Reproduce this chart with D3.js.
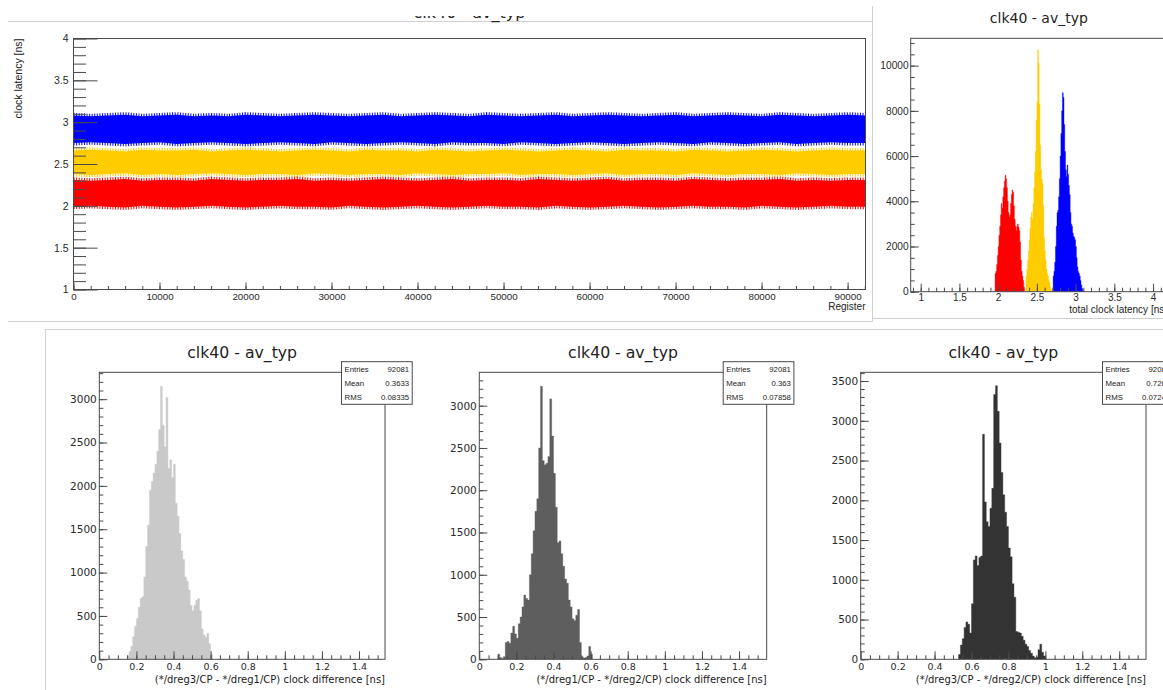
<!DOCTYPE html>
<html><head><meta charset="utf-8">
<script src="https://cdn.jsdelivr.net/npm/d3@7"></script>
<style>body{margin:0;background:#fff;}svg{display:block;}</style>
</head><body>
<svg id="c" width="1163" height="690"></svg>
<script>
// ================= DATA =================
const panelTitle = "clk40 - av_typ";
const registerCount = 92081;
const registerTicks = [0,10000,20000,30000,40000,50000,60000,70000,80000,90000];
const latencyTicks = [1,1.5,2,2.5,3,3.5,4];
const scatterYTitle = "clock latency [ns]";
const scatterXTitle = "Register";

// envelope of the per-register latency bands (evenly spaced over all registers)
const blueUpper = [3.08,3.07,3.08,3.09,3.07,3.08,3.09,3.07,3.08,3.07,3.09,3.08,3.07,3.08,3.09,3.08,3.07,3.08,3.09,3.07,3.08,3.09,3.08,3.07,3.09,3.08,3.07,3.08,3.09,3.07,3.08,3.09,3.08,3.07,3.08,3.09,3.07,3.08,3.09,3.08,3.07,3.09,3.08,3.07,3.08,3.09,3.08];
const blueLower = [2.75,2.76,2.75,2.74,2.75,2.76,2.74,2.75,2.76,2.75,2.74,2.75,2.76,2.75,2.74,2.76,2.75,2.74,2.75,2.76,2.75,2.74,2.76,2.75,2.75,2.74,2.76,2.75,2.74,2.75,2.76,2.75,2.74,2.75,2.76,2.75,2.74,2.76,2.75,2.74,2.75,2.76,2.74,2.75,2.76,2.75,2.75];
const yellowUpper = [2.66,2.67,2.66,2.65,2.67,2.66,2.66,2.67,2.65,2.66,2.67,2.66,2.65,2.66,2.67,2.66,2.65,2.67,2.66,2.66,2.65,2.67,2.66,2.65,2.66,2.67,2.66,2.65,2.66,2.67,2.66,2.65,2.67,2.66,2.66,2.65,2.67,2.66,2.65,2.66,2.67,2.66,2.65,2.66,2.67,2.66,2.66];
const yellowLower = [2.38,2.37,2.38,2.39,2.37,2.38,2.37,2.38,2.39,2.38,2.37,2.38,2.38,2.37,2.39,2.38,2.37,2.38,2.38,2.37,2.39,2.38,2.37,2.38,2.38,2.39,2.37,2.38,2.38,2.37,2.38,2.39,2.37,2.38,2.38,2.37,2.39,2.38,2.37,2.38,2.38,2.37,2.39,2.38,2.37,2.38,2.38];
const redUpper = [2.31,2.30,2.31,2.32,2.30,2.31,2.31,2.30,2.32,2.31,2.30,2.31,2.31,2.32,2.30,2.31,2.30,2.31,2.32,2.31,2.30,2.31,2.32,2.30,2.31,2.31,2.30,2.32,2.31,2.30,2.31,2.32,2.30,2.31,2.31,2.30,2.32,2.31,2.30,2.31,2.31,2.32,2.30,2.31,2.30,2.31,2.31];
const redLower = [1.99,2.00,1.99,1.98,2.00,1.99,1.98,1.99,2.00,1.99,1.98,1.99,2.00,1.99,1.99,1.98,2.00,1.99,1.98,1.99,2.00,1.99,1.98,1.99,2.00,1.99,1.99,1.98,2.00,1.99,1.98,1.99,2.00,1.99,1.98,1.99,2.00,1.99,1.99,1.98,2.00,1.99,1.98,1.99,2.00,1.99,1.99];

// total clock latency histograms (bin width 0.01 ns)
const latBinWidth = 0.01;
const latRedStart = 1.96;
const latRedCounts = [800,900,1200,1600,2000,2500,2900,3400,3900,3700,4200,4600,4900,5150,5000,4600,4000,3500,3300,3400,3900,4300,4500,4400,3800,3200,2900,2700,2900,3000,2850,2700,2200,1400,900,700,500,200];
const latYellowStart = 2.36;
const latYellowCounts = [700,1000,1400,1800,2300,2800,3300,3500,3200,3900,4600,5300,6200,7600,8400,10700,10100,8300,6500,5400,5000,4800,3800,2400,1800,1400,1000,800,700,500,400,200,100];
const latBlueStart = 2.71;
const latBlueCounts = [700,900,1300,2000,2900,3500,3600,4200,5000,6000,7000,8000,8800,8600,7400,6200,5400,5100,5600,5200,4700,4300,3500,3000,2900,2600,2450,2400,2300,2000,1500,1100,900,800,700,500,300,150,60];
const latCountTicks = [0,2000,4000,6000,8000,10000];
const latTitle = "total clock latency [ns]";

// clock-difference histograms (bin width 0.01 ns)
const diffBinWidth = 0.01;
const diffTicks = [0,0.2,0.4,0.6,0.8,1,1.2,1.4];
const diff31Start = 0.15;
const diff31Counts = [40,90,150,260,380,470,600,700,720,950,1300,1550,1950,2050,2150,2250,2400,2650,3150,2700,2450,3020,2200,2300,2100,2250,1800,1650,1450,1250,1150,950,900,800,620,560,620,680,700,560,350,280,250,300,180,60];
const diff12Start = 0.10;
const diff12Counts = [60,20,10,30,200,210,190,310,390,300,250,420,500,620,760,720,700,1000,1250,1520,1750,1900,2500,3230,2350,2300,2320,2400,3080,2640,2200,1800,1380,1400,1250,1100,950,900,700,620,480,460,520,590,200,30,15,20,40,150,60];
const diff32Start = 0.53;
const diff32Counts = [60,180,260,400,470,440,330,700,1250,1300,1180,1280,1300,2830,1980,1730,1670,1900,2150,3330,3440,3120,2720,2350,2070,1850,1670,1400,1290,950,780,350,340,330,290,240,190,160,110,75,40,20,30,120,190,90,40];
const diffTitles = ["(*/dreg3/CP - */dreg1/CP) clock difference [ns]","(*/dreg1/CP - */dreg2/CP) clock difference [ns]","(*/dreg3/CP - */dreg2/CP) clock difference [ns]"];
const statNames = ["Entries","Mean","RMS"];
const stats31 = ["92081","0.3633","0.08335"];
const stats12 = ["92081","0.363","0.07858"];
const stats32 = ["92081","0.7263","0.07245"];
const diffCountTicks31 = [0,500,1000,1500,2000,2500,3000];
const diffCountTicks12 = [0,500,1000,1500,2000,2500,3000];
const diffCountTicks32 = [0,500,1000,1500,2000,2500,3000,3500];

// ================= DRAWING =================
const svg = d3.select('#c');
const FL = "'Liberation Sans', Arial, Helvetica, sans-serif";
const FD = "'DejaVu Sans', sans-serif";
const AX = '#4a4a4a';
const SEP = '#d0d0d0';

function sepLine(x1,y1,x2,y2){
  svg.append('line').attr('x1',x1).attr('y1',y1).attr('x2',x2).attr('y2',y2)
    .attr('stroke',SEP).attr('stroke-width',1);
}
function styleAxis(g, font, size){
  g.select('.domain').remove();
  g.attr('font-family',font).attr('font-size',size).attr('color','#2a2a2a');
  g.selectAll('.tick line').attr('stroke',AX);
}
function frame(x0,y0,x1,y1){
  svg.append('rect').attr('x',x0).attr('y',y0).attr('width',x1-x0).attr('height',y1-y0)
    .attr('fill','none').attr('stroke',AX).attr('stroke-width',1);
}
function histPath(x, y, start, width, counts){
  const p = d3.path();
  p.moveTo(x(start), y(0));
  counts.forEach((c,i)=>{
    p.lineTo(x(start+i*width), y(c));
    p.lineTo(x(start+(i+1)*width), y(c));
  });
  p.lineTo(x(start+counts.length*width), y(0));
  p.closePath();
  return p.toString();
}
let clipId = 0;
function clipRect(x0,y0,x1,y1){
  const id = 'cl'+(clipId++);
  svg.append('clipPath').attr('id',id).append('rect')
    .attr('x',x0).attr('y',y0).attr('width',x1-x0).attr('height',y1-y0);
  return 'url(#'+id+')';
}

// ---- separators between the pasted panels ----
sepLine(8,21.5,872.5,21.5);
sepLine(872.5,6,872.5,321.5);
sepLine(8,321.5,872.5,321.5);
sepLine(873,318.5,1163,318.5);
sepLine(45,329.5,1163,329.5);
sepLine(45.5,329.5,45.5,690);

// ---- top-left: latency vs register ----
{
  const L = {x0:73.5, x1:865.5, y0:38.5, y1:289.5};
  // cropped title (only its lower part is visible)
  svg.append('text').attr('x',(L.x0+L.x1)/2).attr('y',18)
    .attr('text-anchor','middle').attr('font-family',FD).attr('font-size',16)
    .attr('fill','#222').attr('clip-path',clipRect(0,16,872,25)).text(panelTitle);

  const x = d3.scaleLinear().domain([0,registerCount]).range([L.x0,L.x1]);
  const y = d3.scaleLinear().domain([1,4]).range([L.y1,L.y0]);
  const cp = clipRect(L.x0,L.y0,L.x1,L.y1);
  const bands = [
    {up:blueUpper, lo:blueLower, color:'#0000ff'},
    {up:yellowUpper, lo:yellowLower, color:'#ffcc00'},
    {up:redUpper, lo:redLower, color:'#ff0000'}
  ];
  const gB = svg.append('g').attr('clip-path',cp);
  bands.forEach(b=>{
    const n = b.up.length;
    const reg = i => i*registerCount/(n-1);
    const area = d3.area().x((d,i)=>x(reg(i))).y0((d,i)=>y(b.lo[i])).y1((d,i)=>y(b.up[i]));
    gB.append('path').attr('d',area(b.up)).attr('fill',b.color);
    const lineU = d3.line().x((d,i)=>x(reg(i))).y(d=>y(d));
    [b.up,b.lo].forEach(edge=>{
      gB.append('path').attr('d',lineU(edge)).attr('fill','none')
        .attr('stroke',b.color).attr('stroke-width',5).attr('stroke-dasharray','1 1.6');
    });
  });
  frame(L.x0,L.y0,L.x1,L.y1);
  const minorY = d3.range(10,41).map(v=>v/10);
  svg.append('g').attr('transform',`translate(${L.x0},0)`)
    .call(d3.axisLeft(y).tickValues(minorY).tickSize(-12.5).tickFormat(''))
    .call(g=>styleAxis(g,FL,10));
  svg.append('g').attr('transform',`translate(${L.x0},0)`)
    .call(d3.axisLeft(y).tickValues(latencyTicks).tickSize(-24).tickPadding(5).tickFormat(d3.format('~g')))
    .call(g=>styleAxis(g,FL,10.5));
  const minorX = d3.range(0,registerCount,2000);
  svg.append('g').attr('transform',`translate(0,${L.y1})`)
    .call(d3.axisBottom(x).tickValues(minorX).tickSize(-3.5).tickFormat(''))
    .call(g=>styleAxis(g,FL,10));
  svg.append('g').attr('transform',`translate(0,${L.y1})`)
    .call(d3.axisBottom(x).tickValues(registerTicks).tickSize(-7).tickPadding(4).tickFormat(d3.format('d')))
    .call(g=>styleAxis(g,FL,9.8));
  svg.append('text').attr('x',L.x1).attr('y',309.5).attr('text-anchor','end')
    .attr('font-family',FL).attr('font-size',10).attr('fill','#222').text(scatterXTitle);
  svg.append('text').attr('transform',`translate(21.5,${L.y0}) rotate(-90)`)
    .attr('text-anchor','end').attr('font-family',FL).attr('font-size',10.5).attr('fill','#222').text(scatterYTitle);
}

// ---- top-right: total clock latency histograms ----
{
  const R = {x0:910.7, x1:1167, y0:38.3, y1:291.7};
  const x = d3.scaleLinear().domain([0.871,4.18]).range([R.x0,R.x1]);
  const y = d3.scaleLinear().domain([0,11210]).range([R.y1,R.y0]);
  const cp = clipRect(R.x0,R.y0,R.x1,R.y1);
  const g = svg.append('g').attr('clip-path',cp);
  [[latRedStart,latRedCounts,'#ff0000'],[latYellowStart,latYellowCounts,'#ffcc00'],[latBlueStart,latBlueCounts,'#0000ff']]
    .forEach(([s,c,col])=>{
      g.append('path').attr('d',histPath(x,y,s,latBinWidth,c)).attr('fill',col)
        .attr('stroke',col).attr('stroke-width',0.4);
    });
  frame(R.x0,R.y0,R.x1,R.y1);
  svg.append('g').attr('transform',`translate(${R.x0},0)`)
    .call(d3.axisLeft(y).tickValues(d3.range(0,11001,500)).tickSize(-4).tickFormat(''))
    .call(gg=>styleAxis(gg,FL,10));
  svg.append('g').attr('transform',`translate(${R.x0},0)`)
    .call(d3.axisLeft(y).tickValues(latCountTicks).tickSize(-8).tickPadding(2).tickFormat(d3.format('d')))
    .call(gg=>styleAxis(gg,FL,10.2));
  svg.append('g').attr('transform',`translate(0,${R.y1})`)
    .call(d3.axisBottom(x).tickValues(d3.range(9,42).map(v=>v/10)).tickSize(-4).tickFormat(''))
    .call(gg=>styleAxis(gg,FL,10));
  svg.append('g').attr('transform',`translate(0,${R.y1})`)
    .call(d3.axisBottom(x).tickValues(latencyTicks).tickSize(-8).tickPadding(2.5).tickFormat(d3.format('~g')))
    .call(gg=>styleAxis(gg,FL,10));
  svg.append('text').attr('x',(R.x0+R.x1)/2).attr('y',23).attr('text-anchor','middle')
    .attr('font-family',FD).attr('font-size',14).attr('fill','#222').text(panelTitle);
  svg.append('text').attr('x',R.x1).attr('y',313).attr('text-anchor','end')
    .attr('font-family',FL).attr('font-size',10).attr('fill','#222').text(latTitle);
}

// ---- bottom: clock difference histograms ----
const diffLayout = [
  {x0:99.3, x1:385, xMax:1.54, yMax:3310, start:diff31Start, counts:diff31Counts, color:'#c9c9c9', title:diffTitles[0], stats:stats31, yt:diffCountTicks31},
  {x0:479.3, x1:766.7, xMax:1.549, yMax:3395, start:diff12Start, counts:diff12Counts, color:'#5e5e5e', title:diffTitles[1], stats:stats12, yt:diffCountTicks12},
  {x0:860.7, x1:1146, xMax:1.545, yMax:3610, start:diff32Start, counts:diff32Counts, color:'#333333', title:diffTitles[2], stats:stats32, yt:diffCountTicks32}
];
diffLayout.forEach(P=>{
  const y0 = 372.3, y1 = 659.3;
  const x = d3.scaleLinear().domain([0,P.xMax]).range([P.x0,P.x1]);
  const y = d3.scaleLinear().domain([0,P.yMax]).range([y1,y0]);
  const g = svg.append('g').attr('clip-path',clipRect(P.x0,y0,P.x1,y1));
  g.append('path').attr('d',histPath(x,y,P.start,diffBinWidth,P.counts))
    .attr('fill',P.color).attr('stroke',P.color).attr('stroke-width',0.4);
  frame(P.x0,y0,P.x1,y1);
  svg.append('g').attr('transform',`translate(${P.x0},0)`)
    .call(d3.axisLeft(y).tickValues(d3.range(0,P.yMax,100)).tickSize(-4).tickFormat(''))
    .call(gg=>styleAxis(gg,FD,10));
  svg.append('g').attr('transform',`translate(${P.x0},0)`)
    .call(d3.axisLeft(y).tickValues(P.yt).tickSize(-8).tickPadding(2.5).tickFormat(d3.format('d')))
    .call(gg=>styleAxis(gg,FD,10.5));
  svg.append('g').attr('transform',`translate(0,${y1})`)
    .call(d3.axisBottom(x).tickValues(d3.range(1,31).map(v=>v*0.05)).tickSize(-4).tickFormat(''))
    .call(gg=>styleAxis(gg,FD,10));
  svg.append('g').attr('transform',`translate(0,${y1})`)
    .call(d3.axisBottom(x).tickValues(diffTicks).tickSize(-8).tickPadding(4).tickFormat(d3.format('~g')))
    .call(gg=>styleAxis(gg,FD,9.5));
  svg.append('text').attr('x',(P.x0+P.x1)/2).attr('y',357.5).attr('text-anchor','middle')
    .attr('font-family',FD).attr('font-size',15.7).attr('fill','#222').text(panelTitle);
  svg.append('text').attr('x',P.x1).attr('y',683).attr('text-anchor','end')
    .attr('font-family',FD).attr('font-size',10).attr('fill','#222').text(P.title);
  // stats box
  const bx = P.x1-43.5, bw = 70.7, by = 361.7, bh = 42.6;
  svg.append('rect').attr('x',bx).attr('y',by).attr('width',bw).attr('height',bh)
    .attr('fill','#fff').attr('stroke',AX).attr('stroke-width',1);
  statNames.forEach((nm,i)=>{
    const ty = by + bh/3*(i+0.5) + 3;
    svg.append('text').attr('x',bx+3).attr('y',ty).attr('font-family',FL).attr('font-size',7.8)
      .attr('fill','#222').text(nm);
    svg.append('text').attr('x',bx+bw-3).attr('y',ty).attr('text-anchor','end').attr('font-family',FL)
      .attr('font-size',7.8).attr('fill','#222').text(P.stats[i]);
  });
});
</script>
</body></html>
